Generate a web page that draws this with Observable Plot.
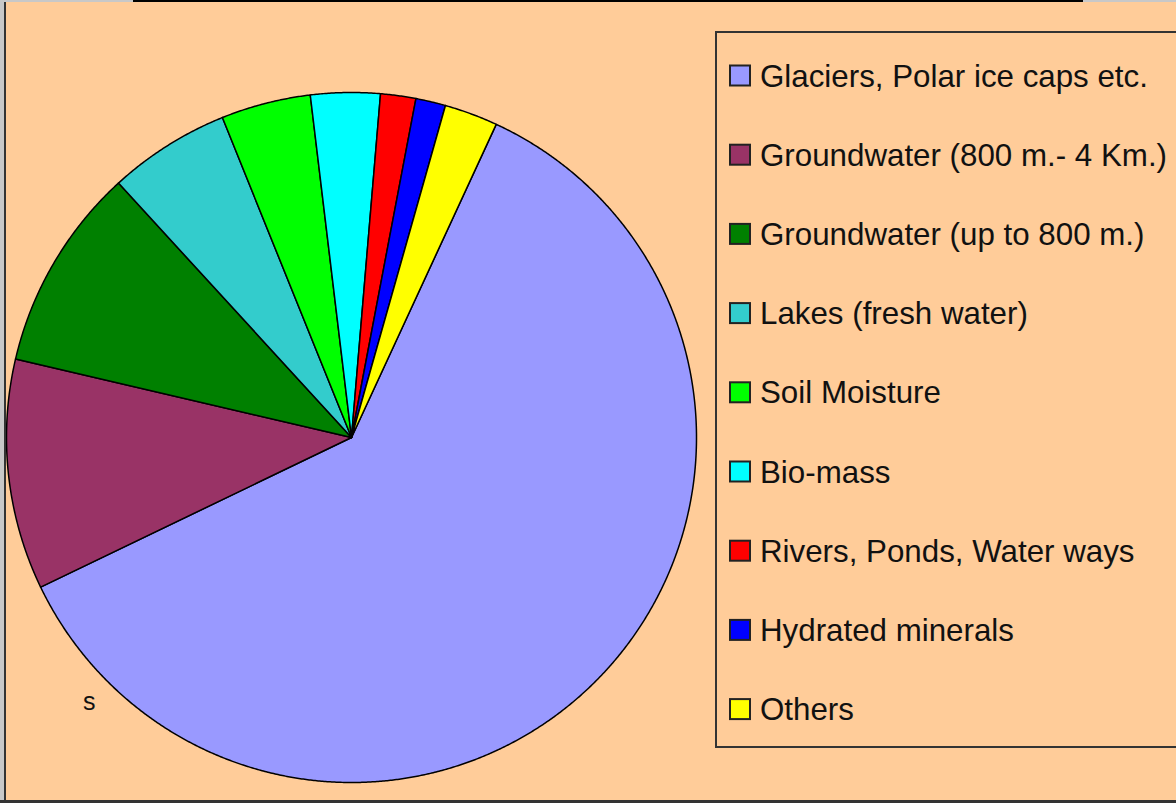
<!DOCTYPE html>
<html>
<head>
<meta charset="utf-8">
<script src="https://cdn.jsdelivr.net/npm/d3@7"></script>
<script src="https://cdn.jsdelivr.net/npm/@observablehq/plot@0.6"></script>
<style>
  html, body { margin: 0; padding: 0; }
  body { width: 1176px; height: 803px; overflow: hidden; position: relative; background: #FFCC99; font-family: "Liberation Sans", Arial, sans-serif; }
  #chart { position: absolute; left: 0; top: 0; }
  .frame { position: absolute; }
</style>
</head>
<body>
<div id="chart"></div>
<script>
// ---- data ----
const categories = [
  "Glaciers, Polar ice caps etc.",
  "Groundwater (800 m.- 4 Km.)",
  "Groundwater (up to 800 m.)",
  "Lakes (fresh water)",
  "Soil Moisture",
  "Bio-mass",
  "Rivers, Ponds, Water ways",
  "Hydrated minerals",
  "Others"
];
const values = [61, 10.8, 9.55, 5.7, 4.2, 3.25, 1.65, 1.4, 2.5];
const colors = ["#9999FF", "#993366", "#008000", "#33CCCC", "#00FF00", "#00FFFF", "#FF0000", "#0000FF", "#FFFF00"];
const startAngleDeg = 24.8;
const strayLabel = "s";

// ---- slice outlines (unit circle, angles clockwise from 12 o'clock) ----
const a0 = startAngleDeg * Math.PI / 180;
const arcs = d3.pie().sort(null).startAngle(a0).endAngle(a0 + 2 * Math.PI)(values);
const rows = [];
arcs.forEach((arc, i) => {
  const label = categories[i];
  rows.push({label, x: 0, y: 0});
  const n = Math.max(4, Math.ceil((arc.endAngle - arc.startAngle) / (Math.PI / 720)));
  for (let k = 0; k <= n; k++) {
    const a = arc.startAngle + (arc.endAngle - arc.startAngle) * k / n;
    rows.push({label, x: Math.sin(a), y: Math.cos(a)});
  }
});

const W = 1176, H = 803;
const plot = Plot.plot({
  width: W,
  height: H,
  marginLeft: 6,
  marginRight: W - 696,
  marginTop: 92,
  marginBottom: H - 782,
  style: {background: "transparent"},
  x: {domain: [-1, 1], axis: null},
  y: {domain: [-1, 1], axis: null},
  color: {domain: categories, range: colors},
  marks: [
    Plot.line(rows, {x: "x", y: "y", z: "label", fill: "label", stroke: "#000", strokeWidth: 1.5, curve: "linear-closed"})
  ]
});
document.getElementById("chart").appendChild(plot);

// ---- frame ----
function box(css) { const d = document.createElement("div"); d.className = "frame"; d.style.cssText = css; document.body.appendChild(d); return d; }
box("left:0;top:0;width:4px;height:803px;background:#c8c8c8;");
box("left:4px;top:0;width:2px;height:803px;background:#333;");
box("left:0;top:0;width:1176px;height:2px;background:#c8c8c8;");
box("left:133px;top:0;width:950px;height:2px;background:#000;");
box("left:0;top:800px;width:1176px;height:3px;background:#333;");

// stray label
const s = box("left:83px;top:689px;font-size:25px;color:#111;line-height:25px;");
s.textContent = strayLabel;

// ---- legend ----
box("left:715px;top:31px;width:480px;height:713px;border:2px solid #333;box-sizing:content-box;");
const NS = "http://www.w3.org/2000/svg";
const lg = document.createElementNS(NS, "svg");
lg.setAttribute("width", 460); lg.setAttribute("height", 720);
lg.style.cssText = "position:absolute;left:716px;top:32px;overflow:visible;";
document.body.appendChild(lg);
categories.forEach((c, i) => {
  const base = 86.5 - 32 + i * 79.2;
  const r = document.createElementNS(NS, "rect");
  r.setAttribute("x", 729 - 716 + 1); r.setAttribute("y", base - 21);
  r.setAttribute("width", 20); r.setAttribute("height", 20);
  r.setAttribute("fill", colors[i]); r.setAttribute("stroke", "#222"); r.setAttribute("stroke-width", 2);
  lg.appendChild(r);
  const t = document.createElementNS(NS, "text");
  t.setAttribute("x", 760 - 716); t.setAttribute("y", base);
  t.setAttribute("font-size", 31.3); t.setAttribute("fill", "#111");
  t.setAttribute("font-family", "Liberation Sans, Arial, sans-serif");
  t.textContent = c;
  lg.appendChild(t);
});
</script>
</body>
</html>
